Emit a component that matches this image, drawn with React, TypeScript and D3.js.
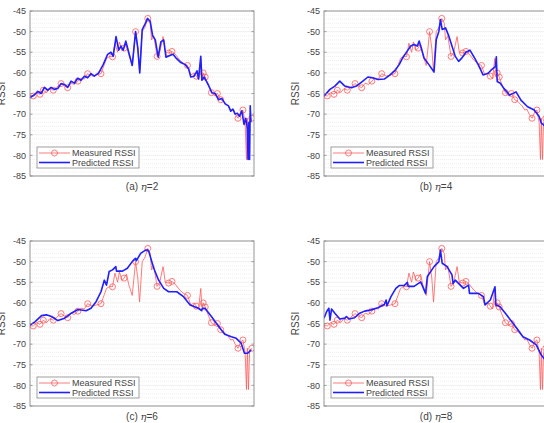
import React from "react";
import * as d3 from "d3";

// y axis ticks (RSSI, dBm)
const yTicks = [-45, -50, -55, -60, -65, -70, -75, -80, -85];
const panelTags = ["(a)", "(b)", "(c)", "(d)"];
const etaValues = [2, 4, 6, 8];

// measured RSSI, same in every panel (x = sample index)
const measuredX = [0,1.5,3,4.5,6,7.5,9,10.5,12,14,15.5,17,18.5,20,21.6,23,24.5,26,28,30,32,33.5,34.5,36,37.2,38.3,39.5,40.3,41.5,42.4,43.5,44.5,46.1,47.6,48.6,49.4,50.6,51.8,53.1,54.2,54.8,55.8,57.3,58.5,60,61,62.5,64,65.5,67.7,69.5,71,72.5,74,75,76,77,77.5,78.1,79,80,81.8,83,84.5,86,87.5,89.3,90.5,91.5,92.5,93.8,95,96,97,97.6,98,98.5,99,100];
const measuredRssi = [-65.5,-65.6,-64.8,-65.2,-64.2,-64.8,-63.8,-64.2,-63.5,-62.6,-63.2,-63.6,-62.5,-62.8,-62,-61.3,-61.5,-60.2,-60.8,-60.5,-60.2,-58,-56.5,-56,-56.1,-52.8,-55,-52.5,-54.5,-54,-53,-55.5,-58.2,-50,-54,-59.8,-50,-49,-46.8,-48,-52,-51,-56,-55,-51.2,-55,-55.2,-54.8,-55.5,-57,-57.8,-58.2,-60.5,-60,-60.8,-61.5,-56.5,-61,-60,-61,-62.5,-64.8,-65.5,-65,-66.5,-67,-68,-69,-68.8,-70,-71,-69.5,-69,-72,-81,-71,-81,-72,-71];
// samples that carry a circle marker
const circleX = [1.5,4.5,6,10.5,14,17,21.6,26,32,37.2,42.4,47.6,53.1,57.3,62.5,64,71,75,78.1,79,81.8,84.5,86,93.8,96,100];

// predicted RSSI, eta = 2
const predAX = [0,2,3.5,5,6.5,8,9.5,11,12.5,14,15.5,17,18.5,20,21.5,23,24.5,26,27.5,29,31,33,35,36.5,37.5,38.8,40,41,42,43.2,44.5,46.1,47.6,48.6,49.5,50.6,52,53,54.2,55.3,56.5,57.8,59,60.3,61.3,63,64.5,66,68,70,71.5,72.5,74,75.3,76,77,77.5,78.5,79.5,80.5,82,83.5,85,86.5,88,89.5,90.5,91.5,92.5,93.5,94.5,95.5,96.5,97.3,98,98.3,98.7,99,99.3,99.6];
const predAY = [-66,-65.3,-64.5,-65,-63.5,-64.2,-63.5,-64,-63.8,-62.6,-62.8,-63.5,-62,-62.5,-61.3,-61.8,-60.8,-61.2,-60.2,-60.8,-60,-58,-55.5,-55,-56,-51.2,-54.5,-53.5,-54.5,-52.3,-55,-58.2,-50,-54,-60,-49.5,-48,-46.8,-47.5,-51,-52,-56.2,-52.5,-52,-56.2,-55.8,-55.5,-56.5,-57.5,-58,-59,-61,-60.8,-59.5,-61.5,-56,-61.8,-61,-62,-63,-64.8,-65,-66.5,-66.2,-67.5,-68,-69.3,-68.8,-70,-69.8,-70.5,-69.2,-72.5,-71,-73.5,-81,-72,-81,-68,-72];

// predicted RSSI, eta = 4
const predBX = [0,2.7,4.9,7.1,9.4,12.4,14.6,16.8,19.8,22,24.3,27.2,29.5,31.7,33.9,35.4,36.9,39.1,40.6,42.1,42.9,43.9,45.1,47.3,49.6,50.6,51.8,52.5,53.3,54.8,56.3,57.7,59.2,60.7,62,64,65.8,68,70,71.7,74,75.4,77.3,77.7,78.1,79.5,81,83.7,86.6,88.8,91.8,94.8,97,98,100];
const predBY = [-65.6,-64,-63.2,-62,-63.2,-63.6,-63.2,-62.3,-61,-61.2,-61.6,-61.5,-60.6,-59.6,-58,-56.4,-55.2,-53.5,-53.1,-53.5,-52.3,-54,-56.4,-58,-59.8,-52,-49.9,-47.1,-49.5,-49.1,-51.1,-53.5,-56,-57.2,-56.5,-55,-54.5,-56.5,-58.5,-60.5,-60.1,-59.3,-58.5,-56.1,-62.1,-62.5,-63.7,-65.4,-64.6,-66.6,-68.2,-69,-70.6,-72.2,-73];

// predicted RSSI, eta = 6
const predCX = [0,2.2,5.2,7.4,9.7,12.6,15.6,18.6,21.6,25.3,27.5,29.8,32,33.5,34.5,35.7,37.2,38.7,39,41.7,43.9,46.1,47.6,47.9,49.9,52.1,53.1,53.6,55.8,58,60.3,62.5,66.2,69.2,72.2,75.9,77.4,77.7,78.9,81.8,84.1,86.3,87.8,90.8,93,95.2,96.7,98.2,99.7];
const predCY = [-65.4,-64.6,-63.1,-62.9,-63.3,-64.3,-63.7,-62.5,-61.6,-61.9,-61.3,-59.7,-57.3,-54.5,-55.7,-52.4,-52,-51.2,-52.3,-52.3,-51.6,-50,-49.2,-49.8,-48,-47.2,-47.2,-47.6,-51.6,-54.5,-56.5,-57.3,-57.3,-58.5,-60.5,-61.3,-61.9,-61.3,-61.3,-63.3,-65,-66.6,-67.6,-68.2,-68.6,-69.8,-72.2,-72.2,-71.4];

// predicted RSSI, eta = 8
const predDX = [0,1.2,2.2,2.7,3.4,4.9,7.1,9.4,10.1,11.2,13.8,16.1,18.3,21.3,24.3,27.2,28,28.4,30.2,32.4,33.9,36.2,37.6,37.9,40.6,43.6,45.8,46.6,49.6,51.8,52.5,53.3,55.5,57.7,58.2,59.2,62.9,65.2,65.6,69.6,71.9,72.6,75,77.1,77.5,79.3,82.3,85.3,87.5,89.7,92.7,95.7,97.9,100];
const predDY = [-63.7,-62.1,-61.3,-64.2,-61.5,-62.5,-63.9,-63.7,-63.3,-63.9,-63.6,-62.5,-62,-61.7,-61.2,-60.4,-59.3,-60.7,-58.5,-56.5,-55.8,-55.8,-55,-56,-56,-54.9,-57.7,-53.6,-51.2,-50,-47.2,-50.4,-51.2,-53.2,-55.3,-54.5,-56.5,-55.7,-57.7,-57.7,-58.5,-60.5,-59.3,-56.1,-60.5,-60.9,-62.9,-65,-66.6,-68.2,-69,-70.2,-72.6,-74];

const predictedX = [predAX, predBX, predCX, predDX];
const predictedY = [predAY, predBY, predCY, predDY];

const W = 544;
const H = 423;
const PW = 224;
const PH = 165;
const origins = [
  [30, 11],
  [324, 11],
  [30, 241],
  [324, 241],
];

const font = "'Liberation Sans', Arial, sans-serif";
const RED = "#ff5a5a";
const BLUE = "#1f1fff";

const Panel = ({ i }: { i: number }) => {
  const [left, top] = origins[i];
  const x = d3.scaleLinear().domain([0, 101]).range([left, left + PW]);
  const y = d3.scaleLinear().domain([-85, -45]).range([top + PH, top]);
  const line = d3
    .line<[number, number]>()
    .x((d) => x(d[0]))
    .y((d) => y(d[1]));

  const meas: [number, number][] = measuredX.map((v, k) => [v, measuredRssi[k]]);
  const pred: [number, number][] = predictedX[i].map((v, k) => [v, predictedY[i][k]]);
  const circles = meas.filter((d) => circleX.includes(d[0]));
  const minor = d3.range(-84, -45).filter((v) => v % 5 !== 0);

  const clipId = `clip${i}`;
  const lx = left + 7;
  const ly = top + 136;

  return (
    <g>
      <defs>
        <clipPath id={clipId}>
          <rect x={left} y={top} width={PW} height={PH} />
        </clipPath>
      </defs>
      <rect x={left} y={top} width={PW} height={PH} fill="#fff" />
      {minor.map((v) => (
        <line key={"m" + v} x1={left} x2={left + PW} y1={y(v)} y2={y(v)}
          stroke="#e4e4e4" strokeWidth={0.6} strokeDasharray="1,1" />
      ))}
      {yTicks.map((v) => (
        <line key={"g" + v} x1={left} x2={left + PW} y1={y(v)} y2={y(v)}
          stroke="#e6e6e6" strokeWidth={0.6} />
      ))}
      <g clipPath={`url(#${clipId})`}>
        <path d={line(meas) || ""} fill="none" stroke={RED} strokeWidth={0.8} />
        {circles.map((d, k) => (
          <circle key={k} cx={x(d[0])} cy={y(d[1])} r={3} fill="none"
            stroke={RED} strokeWidth={0.8} />
        ))}
        <path d={line(pred) || ""} fill="none" stroke={BLUE} strokeWidth={1.6}
          strokeLinejoin="round" />
      </g>
      <rect x={left} y={top} width={PW} height={PH} fill="none" stroke="#8a8a8a" strokeWidth={0.9} />
      {yTicks.map((v) => (
        <g key={"t" + v}>
          <line x1={left} x2={left + 2.5} y1={y(v)} y2={y(v)} stroke="#8a8a8a" strokeWidth={0.8} />
          <line x1={left + PW - 2.5} x2={left + PW} y1={y(v)} y2={y(v)} stroke="#8a8a8a" strokeWidth={0.8} />
          <text x={left - 4} y={y(v)} dy="0.35em" textAnchor="end" fontSize={9}
            fontFamily={font} fill="#444">{v}</text>
        </g>
      ))}
      <text transform={`translate(${left - 29},${top + PH / 2}) rotate(-90)`}
        textAnchor="middle" dy="0.35em" fontSize={10} fontFamily={font} fill="#444">RSSI</text>
      <g>
        <rect x={lx} y={ly} width={102} height={21} fill="#fff" stroke="#8a8a8a" strokeWidth={0.8} />
        <line x1={lx + 2} x2={lx + 33} y1={ly + 6} y2={ly + 6} stroke={RED} strokeWidth={0.8} />
        <circle cx={lx + 17.5} cy={ly + 6} r={3} fill="none" stroke={RED} strokeWidth={0.8} />
        <text x={lx + 35} y={ly + 6} dy="0.35em" fontSize={9} fontFamily={font} fill="#444">Measured RSSI</text>
        <line x1={lx + 2} x2={lx + 33} y1={ly + 15.5} y2={ly + 15.5} stroke={BLUE} strokeWidth={1.6} />
        <text x={lx + 35} y={ly + 15.5} dy="0.35em" fontSize={9} fontFamily={font} fill="#444">Predicted RSSI</text>
      </g>
      <text x={left + PW / 2} y={top + 179} textAnchor="middle" fontSize={10}
        fontFamily={font} fill="#444">
        {panelTags[i] + " "}
        <tspan fontFamily="'DejaVu Serif', serif" fontStyle="italic">η</tspan>
        {"=" + etaValues[i]}
      </text>
    </g>
  );
};

export default function App() {
  return (
    <svg width={W} height={H} viewBox={`0 0 ${W} ${H}`}
      style={{ position: "absolute", left: 0, top: 0, background: "#fff" }}>
      {[0, 1, 2, 3].map((i) => (
        <Panel key={i} i={i} />
      ))}
    </svg>
  );
}
